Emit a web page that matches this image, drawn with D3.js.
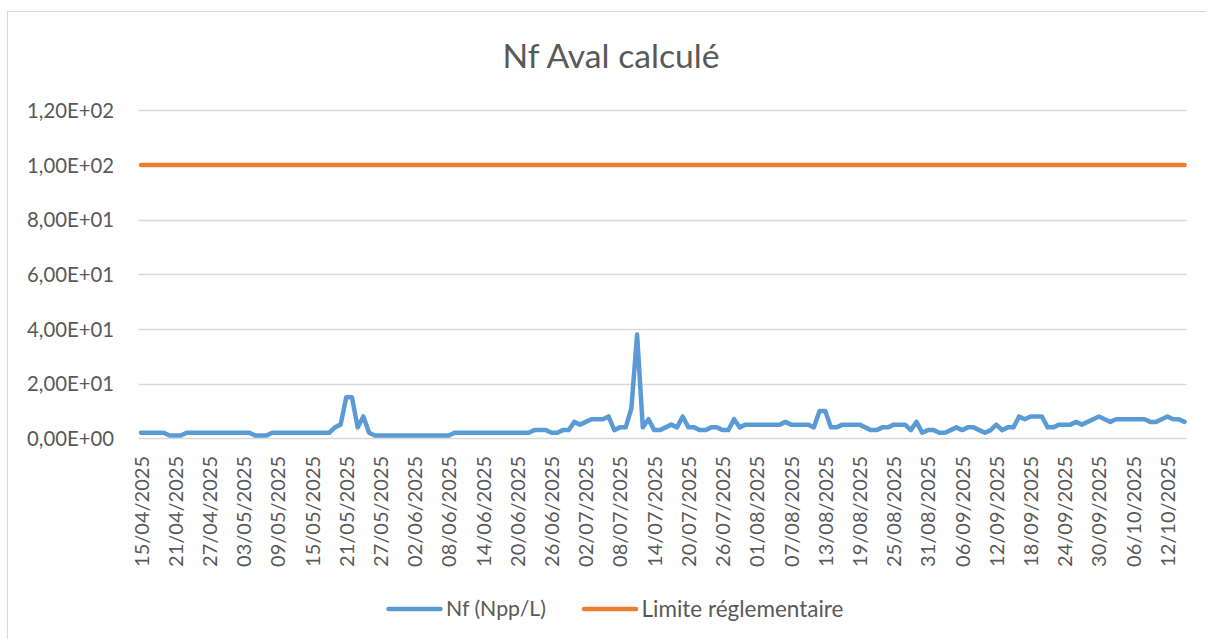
<!DOCTYPE html>
<html>
<head>
<meta charset="utf-8">
<script src="https://cdn.jsdelivr.net/npm/d3@7"></script>
<style>
  body { margin: 0; background: #fff; }
  svg { display: block; font-family: Lato, "Open Sans", sans-serif; }
</style>
</head>
<body>
<svg id="chart" width="1206" height="639"></svg>
<script>
// first day of the series, one value per day after it
var startDay = "15/04/2025";

// Nf (Npp/L), daily
var nfValues = [
  2,2,2,2,2,1,1,1,2,2,
  2,2,2,2,2,2,2,2,2,2,
  1,1,1,2,2,2,2,2,2,2,
  2,2,2,2,4,5,15,15,4,8,
  2,1,1,1,1,1,1,1,1,1,
  1,1,1,1,1,2,2,2,2,2,
  2,2,2,2,2,2,2,2,2,3,
  3,3,2,2,3,3,6,5,6,7,
  7,7,8,3,4,4,11,38,4,7,
  3,3,4,5,4,8,4,4,3,3,
  4,4,3,3,7,4,5,5,5,5,
  5,5,5,6,5,5,5,5,4,10,
  10,4,4,5,5,5,5,4,3,3,
  4,4,5,5,5,3,6,2,3,3,
  2,2,3,4,3,4,4,3,2,3,
  5,3,4,4,8,7,8,8,8,4,
  4,5,5,5,6,5,6,7,8,7,
  6,7,7,7,7,7,7,6,6,7,
  8,7,7,6
];

// Limite réglementaire
var limitValue = 100;

var seriesNames = ["Nf (Npp/L)", "Limite réglementaire"];
var seriesColors = ["#5b9bd5", "#ed7d31"];

var xTickLabels = [
  "15/04/2025","21/04/2025","27/04/2025","03/05/2025","09/05/2025","15/05/2025",
  "21/05/2025","27/05/2025","02/06/2025","08/06/2025","14/06/2025","20/06/2025",
  "26/06/2025","02/07/2025","08/07/2025","14/07/2025","20/07/2025","26/07/2025",
  "01/08/2025","07/08/2025","13/08/2025","19/08/2025","25/08/2025","31/08/2025",
  "06/09/2025","12/09/2025","18/09/2025","24/09/2025","30/09/2025","06/10/2025",
  "12/10/2025"
];
var yTicks = [0, 20, 40, 60, 80, 100, 120];

var parseDay = d3.timeParse("%d/%m/%Y");
var fmtDay = d3.timeFormat("%d/%m/%Y");
var first = parseDay(startDay);

var nfData = nfValues.map(function(v, i) {
  return {date: d3.timeDay.offset(first, i), value: v};
});
var limitData = nfData.map(function(d) { return {date: d.date, value: limitValue}; });

var textColor = "#595959";
var gridColor = "#d9d9d9";

var svg = d3.select("#chart");

// outer chart border
svg.append("rect")
  .attr("x", 7.5).attr("y", 11.5)
  .attr("width", 1220).attr("height", 660)
  .attr("fill", "none").attr("stroke", gridColor);

var x = d3.scaleTime()
  .domain(d3.extent(nfData, function(d) { return d.date; }))
  .range([141, 1184.5]);
var y = d3.scaleLinear().domain([0, 120]).range([438.3, 110.3]);

// size text so it spans the width
function fitSize(sel, target) {
  var w = sel.node().getComputedTextLength();
  var s = parseFloat(sel.attr("font-size"));
  sel.attr("font-size", s * target / w);
  return s * target / w;
}

function sci(v) {
  var s = v.toExponential(2).split("e");
  var exp = parseInt(s[1], 10);
  var e = (exp < 0 ? "-" : "+") + (Math.abs(exp) < 10 ? "0" : "") + Math.abs(exp);
  return s[0].replace(".", ",") + "E" + e;
}

// grid
svg.append("g").selectAll("line").data(yTicks).enter().append("line")
  .attr("x1", 138.5).attr("x2", 1186.5)
  .attr("y1", function(d) { return Math.round(y(d)) + 0.5; })
  .attr("y2", function(d) { return Math.round(y(d)) + 0.5; })
  .attr("stroke", gridColor).attr("stroke-width", 1.3);

// y axis labels
var probe = svg.append("text").attr("font-size", 20).text("1,20E+02");
var ySize = fitSize(probe, 87);
probe.remove();

var yAxis = d3.axisLeft(y).tickValues(yTicks).tickFormat(sci).tickSize(0).tickPadding(0);
var yg = svg.append("g").attr("transform", "translate(114,0)").call(yAxis);
yg.select(".domain").remove();
yg.selectAll("text").attr("font-size", ySize).attr("fill", textColor)
  .attr("font-family", "Lato, 'Open Sans', sans-serif").attr("dy", "0.35em");

// x axis labels
probe = svg.append("text").attr("font-size", 20).text("15/04/2025");
var xSize = fitSize(probe, 111);
probe.remove();

var xAxis = d3.axisBottom(x)
  .tickValues(xTickLabels.map(parseDay))
  .tickFormat(fmtDay).tickSize(0).tickPadding(0);
var xg = svg.append("g").attr("transform", "translate(0,456)").call(xAxis);
xg.select(".domain").remove();
xg.selectAll("text")
  .attr("font-size", xSize).attr("fill", textColor)
  .attr("font-family", "Lato, 'Open Sans', sans-serif")
  .attr("text-anchor", "end")
  .attr("transform", "rotate(-90)")
  .attr("x", 0).attr("y", 0).attr("dy", "0.35em");

// lines
var line = d3.line()
  .x(function(d) { return x(d.date); })
  .y(function(d) { return y(d.value); });

svg.append("path").datum(limitData)
  .attr("d", line).attr("fill", "none")
  .attr("stroke", seriesColors[1]).attr("stroke-width", 4.5)
  .attr("stroke-linecap", "round").attr("stroke-linejoin", "round");

svg.append("path").datum(nfData)
  .attr("d", line).attr("fill", "none")
  .attr("stroke", seriesColors[0]).attr("stroke-width", 4.5)
  .attr("stroke-linecap", "round").attr("stroke-linejoin", "round");

// title
var title = svg.append("text")
  .attr("x", 611).attr("y", 68)
  .attr("text-anchor", "middle")
  .attr("font-size", 30).attr("fill", textColor)
  .text("Nf Aval calculé");
fitSize(title, 217);

// legend
var legendX = [387, 582.5];
var legendW = [100, 202];
var legend = svg.append("g");
seriesNames.forEach(function(name, i) {
  legend.append("line")
    .attr("x1", legendX[i] + 1.5).attr("x2", legendX[i] + 53.5)
    .attr("y1", 609).attr("y2", 609)
    .attr("stroke", seriesColors[i]).attr("stroke-width", 4.5)
    .attr("stroke-linecap", "round");
  var t = legend.append("text")
    .attr("x", legendX[i] + 59).attr("y", 609)
    .attr("dy", "0.35em")
    .attr("font-size", 20).attr("fill", textColor)
    .text(name);
  fitSize(t, legendW[i]);
});
</script>
</body>
</html>
